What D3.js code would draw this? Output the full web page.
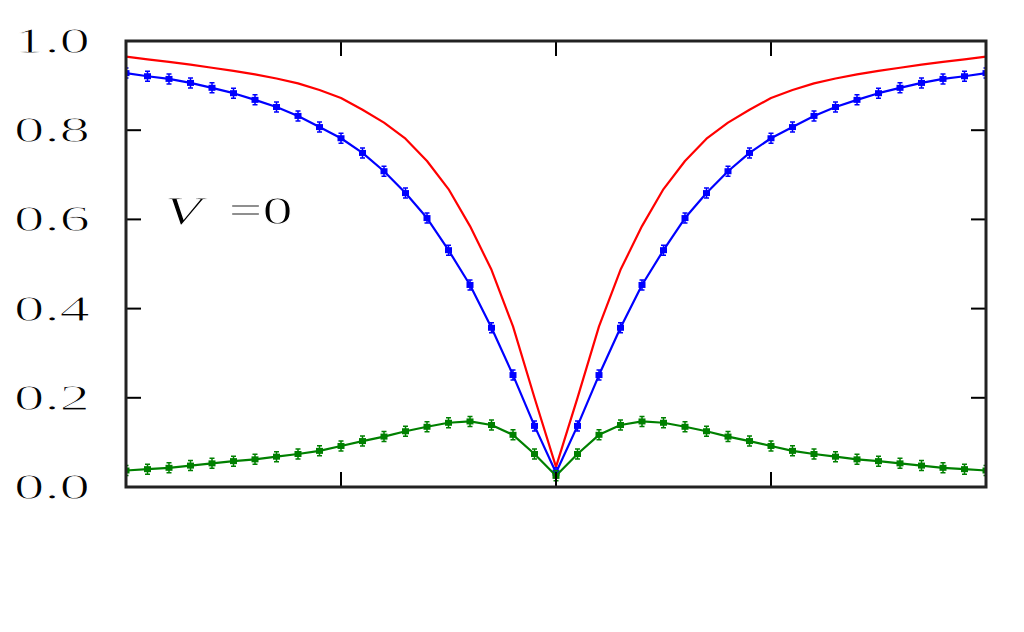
<!DOCTYPE html>
<html>
<head>
<meta charset="utf-8">
<script src="https://cdn.jsdelivr.net/npm/d3@7"></script>
<style>
  html, body { margin: 0; padding: 0; background: #fff; }
  svg { display: block; }
  .tickLabel, .note {
    font-family: "Liberation Serif", "DejaVu Serif", serif;
    fill: #000;
    stroke: #fff;
    stroke-width: 0.9px;
  }
</style>
</head>
<body>
<div id="viz"></div>
<script>
// x positions of the samples (no labels on the x axis)
const xs = [-2.0, -1.9, -1.8, -1.7, -1.6, -1.5, -1.4, -1.3, -1.2, -1.1, -1.0,
  -0.9, -0.8, -0.7, -0.6, -0.5, -0.4, -0.3, -0.2, -0.1, 0.0,
  0.1, 0.2, 0.3, 0.4, 0.5, 0.6, 0.7, 0.8, 0.9, 1.0,
  1.1, 1.2, 1.3, 1.4, 1.5, 1.6, 1.7, 1.8, 1.9, 2.0];

// red: plain line
const redVals = [0.965, 0.959, 0.953, 0.947, 0.940, 0.933, 0.925, 0.916, 0.905, 0.890, 0.872,
  0.846, 0.817, 0.781, 0.731, 0.668, 0.585, 0.487, 0.360, 0.200, 0.045,
  0.200, 0.360, 0.487, 0.585, 0.668, 0.731, 0.781, 0.817, 0.846, 0.872,
  0.890, 0.905, 0.916, 0.925, 0.933, 0.940, 0.947, 0.953, 0.959, 0.965];

// blue: line with markers
const blueVals = [0.928, 0.921, 0.915, 0.906, 0.895, 0.883, 0.868, 0.852, 0.832, 0.807, 0.782,
  0.749, 0.708, 0.659, 0.603, 0.531, 0.453, 0.357, 0.251, 0.137, 0.032,
  0.137, 0.251, 0.357, 0.453, 0.531, 0.603, 0.659, 0.708, 0.749, 0.782,
  0.807, 0.832, 0.852, 0.868, 0.883, 0.895, 0.906, 0.915, 0.921, 0.928];

// green: line with markers
const greenVals = [0.037, 0.040, 0.043, 0.048, 0.053, 0.058, 0.062, 0.068, 0.074, 0.081, 0.092,
  0.103, 0.113, 0.125, 0.135, 0.144, 0.147, 0.139, 0.117, 0.074, 0.025,
  0.074, 0.117, 0.139, 0.147, 0.144, 0.135, 0.125, 0.113, 0.103, 0.092,
  0.081, 0.074, 0.068, 0.062, 0.058, 0.053, 0.048, 0.043, 0.040, 0.037];

const yTicks = [0.0, 0.2, 0.4, 0.6, 0.8, 1.0];
const xTicks = [-1, 0, 1];

const width = 1024;
const height = 632;
const margin = { left: 126, right: 38, top: 41, bottom: 145 };

const svg = d3.select('#viz')
  .append('svg')
  .attr('width', width)
  .attr('height', height);

const x = d3.scaleLinear()
  .domain([-2, 2])
  .range([margin.left, width - margin.right]);

const y = d3.scaleLinear()
  .domain([0, 1])
  .range([height - margin.bottom, margin.top]);

svg.append('clipPath')
  .attr('id', 'plotClip')
  .append('rect')
  .attr('x', x.range()[0])
  .attr('y', y.range()[1])
  .attr('width', x.range()[1] - x.range()[0])
  .attr('height', y.range()[0] - y.range()[1]);

const plot = svg.append('g').attr('clip-path', 'url(#plotClip)');

const line = d3.line()
  .x(d => x(d[0]))
  .y(d => y(d[1]));

const series = [
  { name: 'red', vals: redVals, color: '#ff0000', markers: false },
  { name: 'blue', vals: blueVals, color: '#0000ff', markers: true },
  { name: 'green', vals: greenVals, color: '#008000', markers: true },
];

series.forEach(s => {
  const pts = xs.map((xv, i) => [xv, s.vals[i]]);
  plot.append('path')
    .datum(pts)
    .attr('fill', 'none')
    .attr('stroke', s.color)
    .attr('stroke-width', 2.2)
    .attr('stroke-linejoin', 'round')
    .attr('d', line);

  if (!s.markers) return;

  const m = plot.selectAll(`g.marker-${s.name}`)
    .data(pts)
    .enter()
    .append('g')
    .attr('class', `marker-${s.name}`)
    .attr('transform', d => `translate(${x(d[0])},${y(d[1])})`);

  // small error bars
  m.append('path')
    .attr('d', 'M0,-5V5M-2.5,-5H2.5M-2.5,5H2.5')
    .attr('stroke', s.color)
    .attr('stroke-width', 1.5)
    .attr('fill', 'none');

  m.append('rect')
    .attr('x', -3.5)
    .attr('y', -3)
    .attr('width', 7)
    .attr('height', 6)
    .attr('fill', s.color);
});

// ticks on all four sides, pointing inward
const tickLen = 15;
const axisG = svg.append('g');

axisG.selectAll('line.yTickL')
  .data(yTicks)
  .enter()
  .append('line')
  .attr('x1', x.range()[0])
  .attr('x2', x.range()[0] + tickLen)
  .attr('y1', d => y(d))
  .attr('y2', d => y(d))
  .attr('stroke', '#000')
  .attr('stroke-width', 2);

axisG.selectAll('line.yTickR')
  .data(yTicks)
  .enter()
  .append('line')
  .attr('x1', x.range()[1])
  .attr('x2', x.range()[1] - tickLen)
  .attr('y1', d => y(d))
  .attr('y2', d => y(d))
  .attr('stroke', '#000')
  .attr('stroke-width', 2);

axisG.selectAll('line.xTickB')
  .data(xTicks)
  .enter()
  .append('line')
  .attr('x1', d => x(d))
  .attr('x2', d => x(d))
  .attr('y1', y.range()[0])
  .attr('y2', y.range()[0] - tickLen)
  .attr('stroke', '#000')
  .attr('stroke-width', 2);

axisG.selectAll('line.xTickT')
  .data(xTicks)
  .enter()
  .append('line')
  .attr('x1', d => x(d))
  .attr('x2', d => x(d))
  .attr('y1', y.range()[1])
  .attr('y2', y.range()[1] + tickLen)
  .attr('stroke', '#000')
  .attr('stroke-width', 2);

// frame
axisG.append('rect')
  .attr('x', x.range()[0])
  .attr('y', y.range()[1])
  .attr('width', x.range()[1] - x.range()[0])
  .attr('height', y.range()[0] - y.range()[1])
  .attr('fill', 'none')
  .attr('stroke', '#222')
  .attr('stroke-width', 3);

// y tick labels (glyphs stretched horizontally like the reference)
axisG.selectAll('text.tickLabel')
  .data(yTicks)
  .enter()
  .append('text')
  .attr('class', 'tickLabel')
  .attr('x', 14)
  .attr('y', d => y(d) + 12)
  .attr('font-size', 36)
  .attr('textLength', 76)
  .attr('lengthAdjust', 'spacingAndGlyphs')
  .text(d => d.toFixed(1));

// annotation
const note = svg.append('text')
  .attr('class', 'note')
  .attr('x', x(-1.82))
  .attr('y', y(0.59))
  .attr('font-size', 40)
  .attr('textLength', 128)
  .attr('lengthAdjust', 'spacingAndGlyphs');
note.append('tspan').attr('font-style', 'italic').text('V');
note.append('tspan').text('\u2009 =0');
</script>
</body>
</html>
